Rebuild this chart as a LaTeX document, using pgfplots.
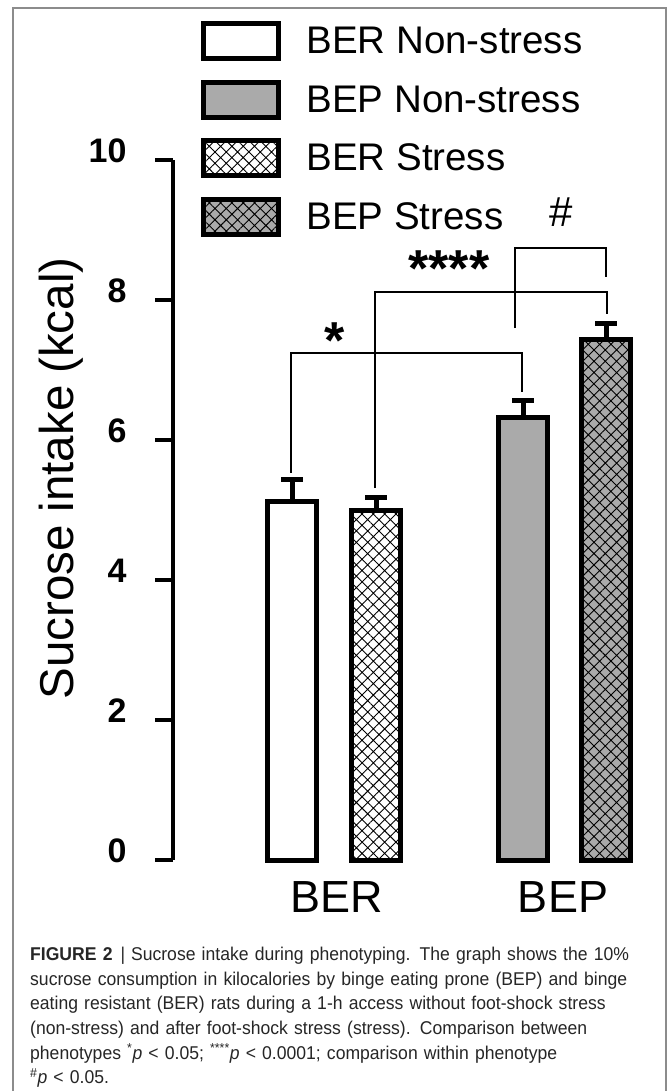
\documentclass[border=0pt]{standalone}
\usepackage{fontspec}
\setmainfont{Liberation Sans}
\newfontfamily\capfont[FakeStretch=0.95]{Liberation Sans}
\usepackage{pgfplots}
\pgfplotsset{compat=1.18}
\usetikzlibrary{patterns.meta}
\definecolor{bargray}{RGB}{170,170,170}
\definecolor{framegray}{RGB}{140,140,140}

\begin{document}
\begin{tikzpicture}[x=1pt,y=1pt]
\useasboundingbox (0,0) rectangle (668,-1091);
\fill[white] (0,0) rectangle (668,-1091);
\draw[framegray, line width=1.2pt] (13,-1096) -- (13,-8) -- (666,-8) -- (666,-1096);
\begin{axis}[
  at={(173pt,-860pt)}, anchor=south west,
  scale only axis, width=477pt, height=700pt,
  xmin=173, xmax=650, ymin=0, ymax=10,
  axis x line=none, axis y line=left,
  y axis line style={-, line width=4pt},
  ytick={0,2,4,6,8,10}, yticklabels={0,2,4,6,8,10},
  tick align=outside, major tick length=18pt,
  ytick style={line width=4pt, black},
  yticklabel shift=25pt,
  yticklabel style={font=\bfseries\fontsize{34}{34}\selectfont, yshift=9pt},
  ylabel={Sucrose intake\hspace{0.25em}(kcal)},
  ylabel style={font=\fontsize{47.5}{47.5}\selectfont, at={(axis description cs:-0.235,0.545)}, anchor=center},
  clip=false,
  legend style={at={(axis description cs:0.0577,1.198)}, anchor=north west,
    draw=none, fill=none, inner sep=0pt, outer sep=0pt, row sep=18.4pt, column sep=26pt,
    nodes={inner sep=0pt, font=\fontsize{38.5}{38.5}\selectfont}},
  legend cell align=left,
  legend image code/.code={\draw[#1, line width=5pt] (0pt,-17.5pt) rectangle (75pt,17.5pt);},
  error bars/y dir=plus, error bars/y explicit,
  error bars/error bar style={line width=5pt, black},
  error bars/error mark options={rotate=90, line width=5pt, mark size=11pt, black},
]
% BER Non-stress
\addplot[ybar, bar shift=0pt, bar width=49, draw=black, line width=5pt, fill=white]
  coordinates {(292,5.12) +- (0,0.32)};
\addlegendentry{BER Non-stress}
% BEP Non-stress
\addplot[ybar, bar shift=0pt, bar width=49, draw=black, line width=5pt, fill=bargray]
  coordinates {(523,6.32) +- (0,0.25)};
\addlegendentry{BEP Non-stress}
% BER Stress
\addplot[ybar, bar shift=0pt, bar width=49, draw=black, line width=5pt, fill=white,
  postaction={pattern={Hatch[angle=45,distance=8pt,line width=0.9pt]}, pattern color=black}]
  coordinates {(376,4.99) +- (0,0.19)};
\addlegendentry{BER Stress}
% BEP Stress
\addplot[ybar, bar shift=0pt, bar width=49, draw=black, line width=5pt, fill=bargray,
  postaction={pattern={Hatch[angle=45,distance=8pt,line width=0.9pt]}, pattern color=black}]
  coordinates {(606,7.43) +- (0,0.23)};
\addlegendentry{BEP Stress}
% significance brackets
\addplot[black, line width=2pt, no marks, forget plot, sharp plot]
  coordinates {(291,5.53) (291,7.243) (522,7.243) (522,6.686)};
\addplot[black, line width=2pt, no marks, forget plot, sharp plot]
  coordinates {(375,5.314) (375,8.114) (607,8.114) (607,7.80)};
\addplot[black, line width=2pt, no marks, forget plot, sharp plot]
  coordinates {(515,7.60) (515,8.743) (606,8.743) (606,8.329)};
\node[anchor=base, font=\bfseries\fontsize{52}{52}\selectfont] at (axis cs:335,7.17) {*};
\node[anchor=base, font=\bfseries\fontsize{52}{52}\selectfont] at (axis cs:449,8.20) {****};
\node[anchor=base, font=\fontsize{42}{42}\selectfont] at (axis cs:561,9.05) {\#};
\node[anchor=base, font=\fontsize{45}{45}\selectfont] at (axis cs:337,-0.743) {BER};
\node[anchor=base, font=\fontsize{45}{45}\selectfont] at (axis cs:563,-0.743) {BEP};
\end{axis}
\node[anchor=north west, inner sep=0pt, text width=640pt, align=left,
  font=\capfont\fontsize{18.5}{24.6}\selectfont, text=black!85] at (30,-947) {%
\textbf{FIGURE 2}\hspace{8pt}|\hspace{6pt}Sucrose intake during phenotyping. The graph shows the 10\%\\
sucrose consumption in kilocalories by binge eating prone (BEP) and binge\\
eating resistant (BER) rats during a 1-h access without foot-shock stress\\
(non-stress) and after foot-shock stress (stress). Comparison between\\
phenotypes \textsuperscript{*}\textit{p} < 0.05; \textsuperscript{****}\textit{p} < 0.0001; comparison within phenotype\\
\textsuperscript{\#}\textit{p} < 0.05.};
\end{tikzpicture}
\end{document}
